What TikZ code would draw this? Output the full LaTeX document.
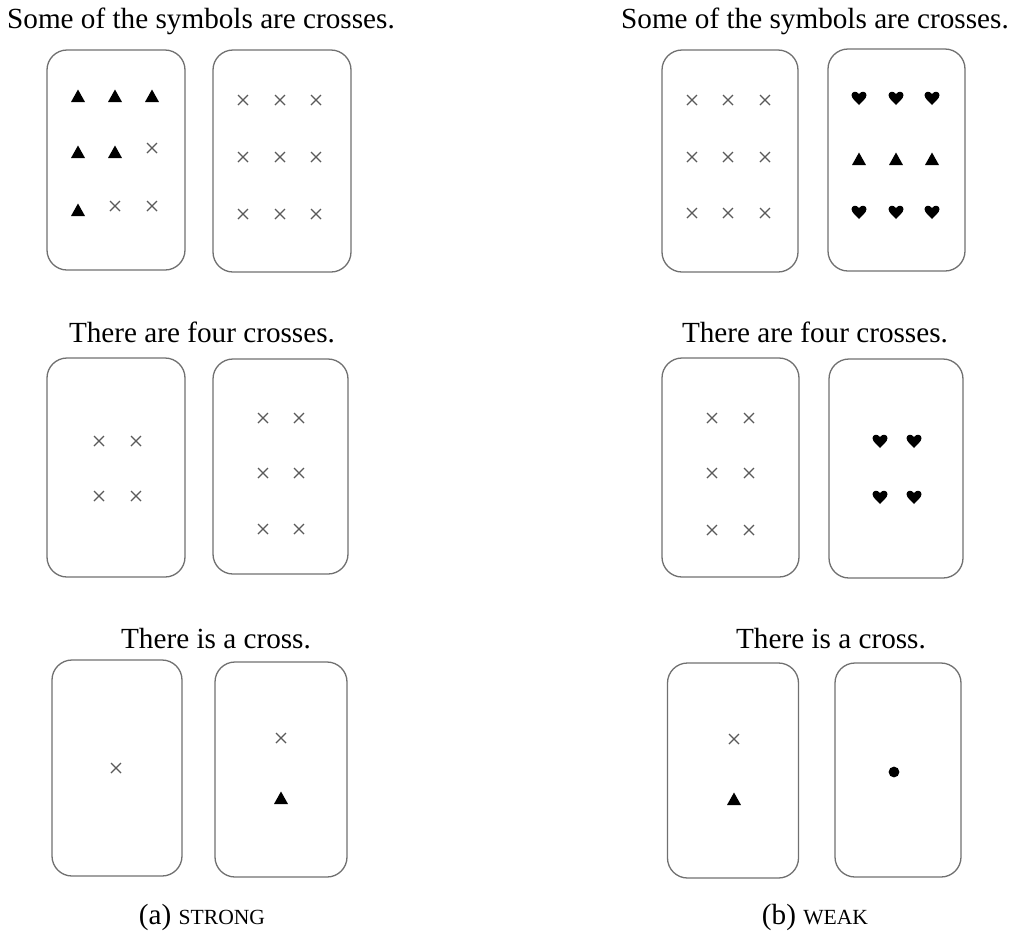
\documentclass[tikz,border=0pt]{standalone}
\usepackage{fontspec}
\setmainfont{Liberation Serif}
\usetikzlibrary{positioning}
\definecolor{cardgray}{HTML}{707070}
\definecolor{crossgray}{HTML}{5A5A5A}

\begin{document}
\begin{tikzpicture}[x=0.5pt,y=-0.5pt,
  card/.style args={#1x#2}{draw=cardgray, line width=0.65pt, rounded corners=10pt, inner sep=0pt,
    minimum width=#1*0.5pt, minimum height=#2*0.5pt},
  label/.style={anchor=base, font=\fontsize{14.6}{17}\selectfont},
  pics/xmark/.style={code={\draw[crossgray, line width=0.62pt] (-5,-5) -- (5,5) (-5,5) -- (5,-5);}},
  pics/trimark/.style={code={\fill (-7,6) -- (7,6) -- (0,-6.5) -- cycle;}},
  pics/heartmark/.style={code={\fill (0,7) .. controls (-2.5,4) and (-7.5,0.5) .. (-7.5,-2.8)
      .. controls (-7.5,-6.5) and (-2.8,-7.8) .. (0,-4) .. controls (2.8,-7.8) and (7.5,-6.5) .. (7.5,-2.8)
      .. controls (7.5,0.5) and (2.5,4) .. (0,7) -- cycle;}},
  pics/dotmark/.style={code={\fill (0,0) circle [radius=2.7pt];}}]
\useasboundingbox (0,0) rectangle (1014,934);

% titles and captions
\node[label] (ta1) at (201,28) {Some of the symbols are crosses.};
\node[label] (tb1) at (815,28) {Some of the symbols are crosses.};
\node[label] (ta2) at (202,342) {There are four crosses.};
\node[label] (tb2) at (815,342) {There are four crosses.};
\node[label] (ta3) at (216,648) {There is a cross.};
\node[label] (tb3) at (831,648) {There is a cross.};
\node[label] (capa) at (202,924) {(a) {\fontsize{10.8}{13}\selectfont STRONG}};
\node[label] (capb) at (815,924) {(b) {\fontsize{10.8}{13}\selectfont WEAK}};

% cards
\node[card=138x220] (a1) at (116,160) {};
\node[card=138x222] (a2) at (282,161) {};
\node[card=138x219] (a3) at (116,467.5) {};
\node[card=135x215] (a4) at (280.5,466.5) {};
\node[card=130x216] (a5) at (117,768) {};
\node[card=132x215] (a6) at (281,769.5) {};
\node[card=136x222] (b1) at (730,161) {};
\node[card=137x222] (b2) at (896.5,160) {};
\node[card=137x219] (b3) at (730.5,467.5) {};
\node[card=134x219] (b4) at (896,468.5) {};
\node[card=131x215] (b5) at (733,770.5) {};
\node[card=126x214] (b6) at (898,770) {};

% symbols
\foreach \p in {(78,96),(115,96),(152,96),(78,152),(115,152),(78,210)} \pic at \p {trimark};
\foreach \p in {(152,148),(115,206),(152,206)} \pic at \p {xmark};
\foreach \x in {243,280,316} \foreach \y in {100,157,214} \pic at (\x,\y) {xmark};
\foreach \x in {692,728,765} \foreach \y in {100,157,213} \pic at (\x,\y) {xmark};
\foreach \x in {859,896,932} {
  \pic at (\x,98) {heartmark};
  \pic at (\x,159) {trimark};
  \pic at (\x,212) {heartmark};
}
\foreach \x in {99,136} \foreach \y in {441,496} \pic at (\x,\y) {xmark};
\foreach \x in {263,299} \foreach \y in {418,473,529} \pic at (\x,\y) {xmark};
\foreach \x in {712,749} \foreach \y in {418,473,530} \pic at (\x,\y) {xmark};
\foreach \x in {880,914} \foreach \y in {441,497} \pic at (\x,\y) {heartmark};
\pic at (116,768) {xmark};
\pic at (281,738) {xmark};
\pic at (281,798) {trimark};
\pic at (734,739) {xmark};
\pic at (734,799) {trimark};
\pic at (894,772) {dotmark};
\end{tikzpicture}
\end{document}
